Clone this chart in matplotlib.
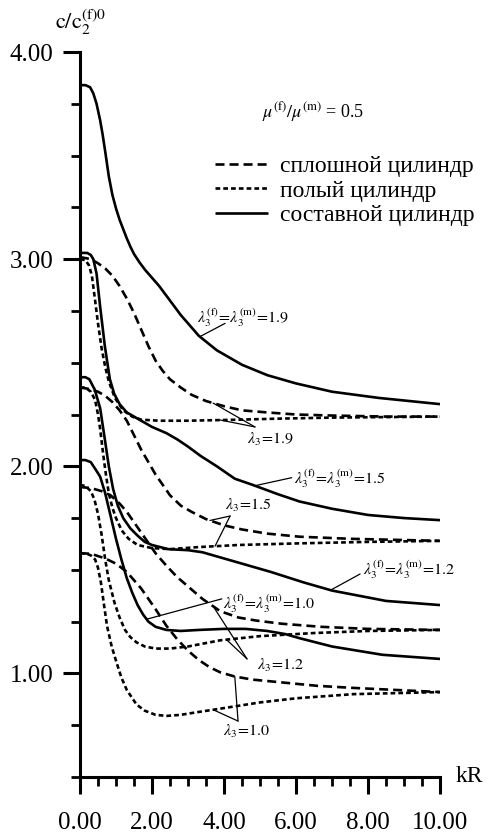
import numpy as np
import matplotlib
matplotlib.use("Agg")
import matplotlib.pyplot as plt
from matplotlib.ticker import MultipleLocator, FormatStrFormatter

plt.rcParams['font.family'] = ['Liberation Serif', 'DejaVu Serif']
plt.rcParams['mathtext.fontset'] = 'stix'
plt.rcParams['lines.scale_dashes'] = False

# сплошной цилиндр (long dashes)
full_x_19 = [0, 0.3, 0.5, 0.7, 0.9, 1.1, 1.3, 1.5, 1.7, 1.9, 2.1, 2.3, 2.5, 2.8, 3.1, 3.5, 4.0, 4.5, 5.2, 6.0, 7.0, 8.5, 10]
full_y_19 = [3.01, 3.00, 2.98, 2.955, 2.92, 2.87, 2.81, 2.74, 2.66, 2.58, 2.51, 2.46, 2.42, 2.38, 2.345, 2.315, 2.29, 2.27, 2.26, 2.25, 2.245, 2.24, 2.24]
full_x_15 = [0, 0.2, 0.5, 0.7, 0.9, 1.1, 1.3, 1.5, 1.7, 1.9, 2.1, 2.3, 2.5, 2.8, 3.1, 3.5, 4.0, 4.5, 5.2, 6.1, 7.5, 10]
full_y_15 = [2.38, 2.375, 2.36, 2.34, 2.31, 2.27, 2.22, 2.15, 2.08, 2.02, 1.96, 1.91, 1.86, 1.81, 1.78, 1.745, 1.715, 1.695, 1.675, 1.66, 1.65, 1.64]
full_x_12 = [0, 0.3, 0.6, 0.85, 1.1, 1.3, 1.5, 1.7, 1.9, 2.1, 2.4, 2.7, 3.0, 3.4, 3.9, 4.4, 4.9, 5.6, 6.7, 8.0, 10]
full_y_12 = [1.90, 1.895, 1.88, 1.86, 1.82, 1.78, 1.73, 1.68, 1.63, 1.58, 1.52, 1.465, 1.42, 1.36, 1.30, 1.27, 1.255, 1.24, 1.225, 1.215, 1.21]
full_x_10 = [0, 0.3, 0.7, 1.0, 1.3, 1.5, 1.7, 1.9, 2.1, 2.4, 2.7, 3.0, 3.3, 3.6, 3.9, 4.3, 4.8, 5.7, 6.6, 7.6, 10]
full_y_10 = [1.58, 1.578, 1.555, 1.53, 1.49, 1.45, 1.41, 1.36, 1.31, 1.23, 1.165, 1.11, 1.065, 1.03, 1.005, 0.985, 0.97, 0.955, 0.94, 0.93, 0.91]

# полый цилиндр (short dashes)
hol_x_19 = [0, 0.15, 0.25, 0.33, 0.42, 0.5, 0.6, 0.7, 0.8, 0.97, 1.2, 1.45, 1.7, 2.2, 3.0, 4.4, 5.5, 7.0, 10]
hol_y_19 = [3.0, 2.995, 2.97, 2.92, 2.80, 2.69, 2.57, 2.48, 2.41, 2.33, 2.27, 2.24, 2.225, 2.22, 2.22, 2.225, 2.23, 2.235, 2.24]
hol_x_15 = [0, 0.15, 0.3, 0.42, 0.5, 0.56, 0.65, 0.72, 0.8, 0.9, 1.0, 1.16, 1.35, 1.6, 2.0, 2.5, 3.3, 4.4, 6.1, 8.0, 10]
hol_y_15 = [2.38, 2.38, 2.36, 2.32, 2.25, 2.18, 2.05, 1.96, 1.87, 1.80, 1.75, 1.69, 1.65, 1.62, 1.605, 1.60, 1.61, 1.62, 1.628, 1.635, 1.64]
hol_x_12 = [0, 0.15, 0.3, 0.4, 0.5, 0.6, 0.7, 0.8, 0.96, 1.1, 1.25, 1.4, 1.57, 1.8, 2.1, 2.5, 3.0, 3.9, 5.0, 6.5, 8.0, 10]
hol_y_12 = [1.91, 1.905, 1.88, 1.84, 1.77, 1.67, 1.55, 1.45, 1.34, 1.27, 1.21, 1.175, 1.15, 1.13, 1.12, 1.12, 1.13, 1.16, 1.18, 1.195, 1.205, 1.21]
hol_x_10 = [0, 0.15, 0.3, 0.42, 0.5, 0.58, 0.66, 0.75, 0.88, 1.02, 1.15, 1.3, 1.57, 1.8, 2.1, 2.4, 2.8, 3.15, 3.9, 5.0, 6.0, 7.6, 10]
hol_y_10 = [1.58, 1.58, 1.57, 1.55, 1.51, 1.44, 1.34, 1.23, 1.13, 1.05, 0.98, 0.92, 0.85, 0.82, 0.80, 0.795, 0.80, 0.81, 0.83, 0.86, 0.88, 0.90, 0.91]

# составной цилиндр (solid)
comp_x_19 = [0, 0.15, 0.28, 0.37, 0.46, 0.56, 0.63, 0.7, 0.8, 0.9, 1.0, 1.1, 1.2, 1.3, 1.4, 1.5, 1.65, 1.8, 2.2, 2.5, 2.8, 3.3, 3.8, 4.5, 5.2, 6.0, 7.0, 8.3, 10]
comp_y_19 = [3.84, 3.84, 3.83, 3.80, 3.75, 3.67, 3.60, 3.52, 3.40, 3.31, 3.245, 3.19, 3.145, 3.10, 3.06, 3.025, 2.985, 2.95, 2.87, 2.80, 2.73, 2.63, 2.56, 2.49, 2.44, 2.40, 2.36, 2.33, 2.30]
comp_x_15 = [0, 0.2, 0.3, 0.37, 0.46, 0.56, 0.69, 0.83, 0.95, 1.1, 1.3, 1.6, 2.0, 2.4, 2.7, 3.0, 3.35, 3.8, 4.3, 4.8, 5.5, 6.1, 7.0, 8.0, 9.0, 10]
comp_y_15 = [3.03, 3.03, 3.02, 3.0, 2.93, 2.77, 2.58, 2.42, 2.35, 2.30, 2.26, 2.23, 2.19, 2.16, 2.13, 2.095, 2.05, 2.0, 1.94, 1.91, 1.865, 1.83, 1.795, 1.765, 1.75, 1.74]
comp_x_12 = [0, 0.15, 0.26, 0.41, 0.56, 0.69, 0.8, 0.92, 1.05, 1.2, 1.4, 1.6, 1.8, 2.0, 2.45, 3.0, 3.4, 3.9, 4.3, 5.3, 6.2, 7.0, 8.5, 10]
comp_y_12 = [2.43, 2.43, 2.42, 2.37, 2.28, 2.13, 2.00, 1.89, 1.81, 1.75, 1.70, 1.665, 1.635, 1.62, 1.60, 1.595, 1.585, 1.56, 1.54, 1.49, 1.44, 1.40, 1.35, 1.33]
comp_x_10 = [0, 0.15, 0.3, 0.45, 0.56, 0.7, 0.85, 1.0, 1.15, 1.3, 1.45, 1.6, 1.75, 1.9, 2.1, 2.4, 2.8, 3.3, 4.0, 4.6, 5.2, 5.7, 6.1, 7.0, 8.4, 10]
comp_y_10 = [2.03, 2.03, 2.02, 1.98, 1.95, 1.87, 1.76, 1.65, 1.55, 1.46, 1.39, 1.33, 1.285, 1.25, 1.225, 1.21, 1.205, 1.21, 1.215, 1.215, 1.205, 1.19, 1.17, 1.13, 1.09, 1.07]

legend_labels = ['сплошной цилиндр', 'полый цилиндр', 'составной цилиндр']

LONG = (0, (6.5, 3.6))
SHORT = (0, (3.4, 2.2))
LW = 1.9

fig = plt.figure(figsize=(4.96, 8.35), dpi=100)
ax = fig.add_axes([80 / 496, 58 / 835, 360 / 496, 725 / 835])

for xs, ys in [(full_x_19, full_y_19), (full_x_15, full_y_15), (full_x_12, full_y_12), (full_x_10, full_y_10)]:
    h_full, = ax.plot(xs, ys, color='black', lw=LW, linestyle=LONG)
for xs, ys in [(hol_x_19, hol_y_19), (hol_x_15, hol_y_15), (hol_x_12, hol_y_12), (hol_x_10, hol_y_10)]:
    h_hol, = ax.plot(xs, ys, color='black', lw=LW, linestyle=SHORT)
for xs, ys in [(comp_x_19, comp_y_19), (comp_x_15, comp_y_15), (comp_x_12, comp_y_12), (comp_x_10, comp_y_10)]:
    h_comp, = ax.plot(xs, ys, color='black', lw=LW, solid_capstyle='butt', solid_joinstyle='round')

ax.set_xlim(0, 10)
ax.set_ylim(0.5, 4.0)
for side in ['top', 'right']:
    ax.spines[side].set_visible(False)
for side in ['left', 'bottom']:
    ax.spines[side].set_linewidth(2.2)

ax.xaxis.set_major_locator(MultipleLocator(2))
ax.xaxis.set_minor_locator(MultipleLocator(0.5))
ax.yaxis.set_major_locator(MultipleLocator(1))
ax.yaxis.set_minor_locator(MultipleLocator(0.25))
ax.xaxis.set_major_formatter(FormatStrFormatter('%.2f'))
ax.yaxis.set_major_formatter(FormatStrFormatter('%.2f'))
ax.tick_params(which='major', direction='out', length=12, width=2.2, labelsize=18)
ax.tick_params(which='minor', direction='out', length=6.5, width=2.0)
ax.tick_params(axis='x', which='major', pad=13)
ax.tick_params(axis='y', which='major', pad=7)

ax.text(1.042, 0.0, 'kR', transform=ax.transAxes, fontsize=17, ha='left', va='center')
ax.text(-0.07, 1.041, r'$\mathrm{c/c}_2^{\mathrm{(f)0}}$', transform=ax.transAxes,
        fontsize=16, ha='left', va='center')

ax.text(5.05, 3.71, r'$\mu^{(\mathrm{f})}/\mu^{(\mathrm{m})}$ = 0.5', fontsize=13, ha='left', va='center')

ax.legend([h_full, h_hol, h_comp], legend_labels, loc='upper left', bbox_to_anchor=(0.375, 0.857),
          frameon=False, fontsize=17, handlelength=2.25, handletextpad=0.5, labelspacing=0.12,
          borderpad=0, borderaxespad=0)

lead = dict(arrowstyle='-', lw=0.9, color='black', shrinkA=0, shrinkB=0)


def leader(start, x_tip, xs, ys):
    ax.annotate('', xy=(x_tip, np.interp(x_tip, xs, ys)), xytext=start, arrowprops=lead)


def both_label(x, y, val):
    ax.text(x, y, r'$\lambda_3^{(\mathrm{f})}\!=\!\lambda_3^{(\mathrm{m})}\!=\!' + val + '$',
            fontsize=11.5, ha='left', va='center')


def lam_label(x, y, val):
    ax.text(x, y, r'$\lambda_3\!=\!' + val + '$', fontsize=11.5, ha='left', va='center')


both_label(3.25, 2.72, '1.9')
leader((4.03, 2.69), 3.33, comp_x_19, comp_y_19)
lam_label(4.64, 2.13, '1.9')
leader((4.86, 2.19), 3.7, full_x_19, full_y_19)
leader((4.86, 2.19), 3.9, hol_x_19, hol_y_19)

both_label(5.95, 1.94, '1.5')
leader((5.88, 1.945), 4.86, comp_x_15, comp_y_15)
lam_label(4.03, 1.81, '1.5')
leader((4.17, 1.76), 3.61, full_x_15, full_y_15)
leader((4.17, 1.76), 3.75, hol_x_15, hol_y_15)

both_label(7.85, 1.50, '1.2')
leader((7.78, 1.48), 6.96, comp_x_12, comp_y_12)
both_label(3.97, 1.335, '1.0')
leader((3.94, 1.36), 1.85, comp_x_10, comp_y_10)
lam_label(4.92, 1.04, '1.2')
leader((4.64, 1.07), 3.7, full_x_12, full_y_12)
leader((4.64, 1.07), 4.07, hol_x_12, hol_y_12)
lam_label(3.97, 0.72, '1.0')
leader((4.39, 0.77), 4.3, full_x_10, full_y_10)
leader((4.39, 0.77), 3.7, hol_x_10, hol_y_10)

fig.savefig('out.png', dpi=100)
